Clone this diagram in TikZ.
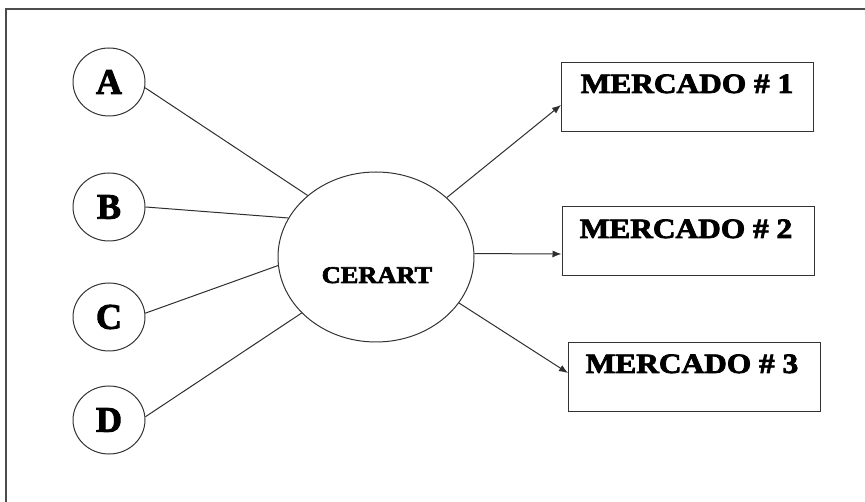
\documentclass[tikz,border=0pt]{standalone}
\usepackage{fontspec}
\usetikzlibrary{shapes.geometric,arrows.meta}
\newfontfamily\heavyserif[FakeBold=2.6]{Liberation Serif}
\begin{document}
\begin{tikzpicture}[x=1pt,y=-1pt,
  ink/.style={draw=black!80,line width=1pt},
  member/.style={ellipse,ink,inner sep=0pt,minimum width=72pt,minimum height=68pt,
    font=\fontsize{36}{36}\heavyserif\bfseries},
  hub/.style={ellipse,ink,inner sep=0pt,minimum width=196pt,minimum height=170pt},
  market/.style={rectangle,ink,inner sep=0pt,minimum width=252pt,minimum height=69pt},
  boxtitle/.style={anchor=base,inner sep=0pt,font=\fontsize{28}{28}\heavyserif\bfseries},
  link/.style={draw=black!82,line width=1pt},
  flow/.style={link,-{Latex[length=9pt,width=7pt]}}]
\useasboundingbox (0,0) rectangle (865,502);
% outer frame, open at right and bottom
\draw[draw=black!70,line width=2pt] (6,502) -- (6,9.5) -- (865,9.5);

% suppliers
\node[member] (A) at (109,82) {A};
\node[member] (B) at (109,207) {B};
\node[member] (C) at (109,317) {C};
\node[member] (D) at (109,420) {D};

% central firm
\node[hub] (E) at (376,257) {};
\node[anchor=base,inner sep=0pt,font=\fontsize{24}{24}\heavyserif\bfseries] (Elabel) at (377,283)
  {\scalebox{1.1}[1]{CERART}};

% markets
\node[market] (m1) at (687.5,97.5) {};
\node[market] (m2) at (688,241.5) {};
\node[market] (m3) at (694.5,377) {};
\node[boxtitle] (t1) at (687,93) {\scalebox{1.12}[1]{MERCADO \# 1}};
\node[boxtitle] (t2) at (686,238) {\scalebox{1.12}[1]{MERCADO \# 2}};
\node[boxtitle] (t3) at (692,373) {\scalebox{1.12}[1]{MERCADO \# 3}};

% supplier links
\draw[link] (A.-9.5) -- (E.138);
\draw[link] (B.0) -- (E.156.3);
\draw[link] (C.6) -- (E.-175.3);
\draw[link] (D.5) -- (E.217.7);

% flows to markets
\draw[flow] (E.40.7) -- ([yshift=-7.5pt]m1.west);
\draw[flow] (E.2) -- ([yshift=-12.5pt]m2.west);
\draw[flow] (E.-29.8) -- ([yshift=4pt]m3.west);
\end{tikzpicture}
\end{document}
